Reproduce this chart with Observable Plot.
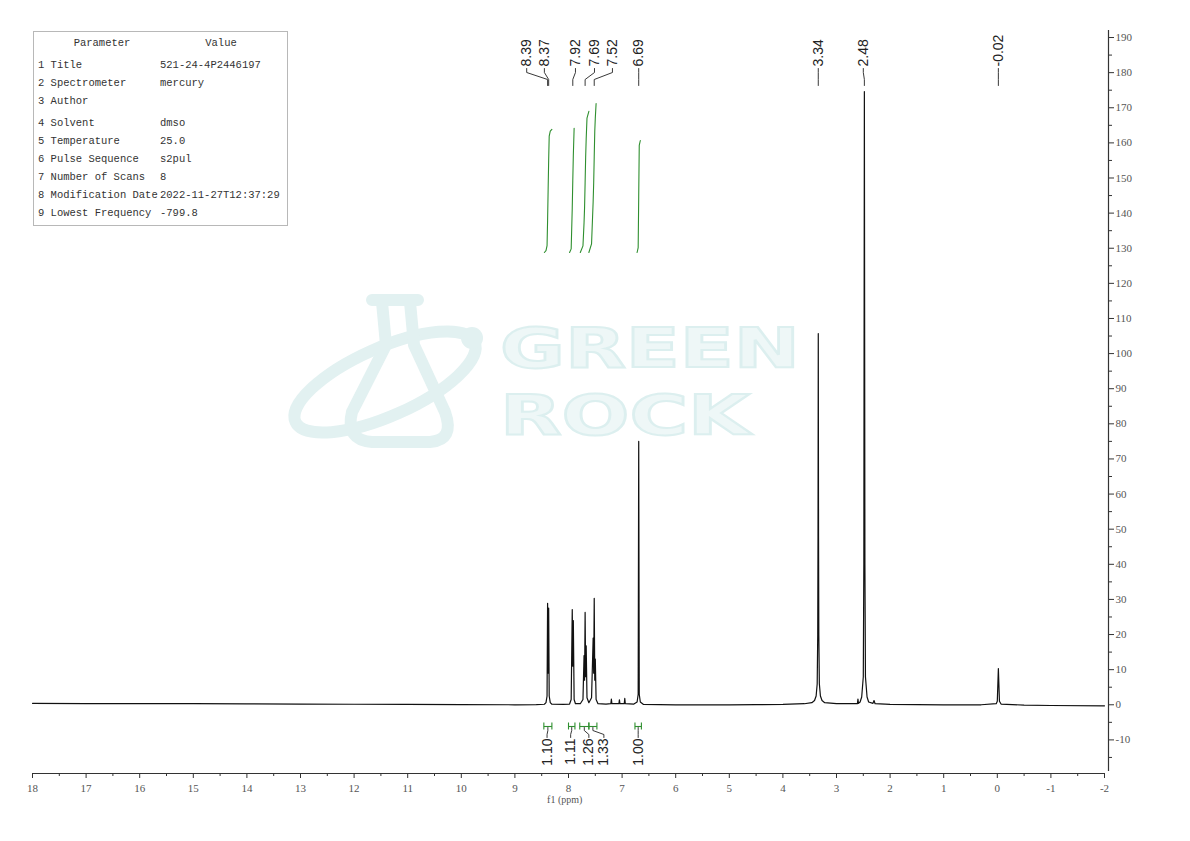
<!DOCTYPE html>
<html><head><meta charset="utf-8">
<script src="https://cdn.jsdelivr.net/npm/d3@7"></script>
<script src="https://cdn.jsdelivr.net/npm/@observablehq/plot@0.6"></script>
<style>
html,body{margin:0;padding:0;background:#fff;}
body{width:1190px;height:841px;position:relative;overflow:hidden;}
#wm{position:absolute;left:0;top:0;z-index:0;}
#chart{position:absolute;left:0;top:0;z-index:1;}
#params{position:absolute;left:33px;top:31px;width:253px;height:193px;border:1px solid #b8b8b8;z-index:2;background:transparent;font-family:"Liberation Mono",monospace;font-size:10.5px;color:#333;}
#params div{position:absolute;white-space:pre;line-height:14px;}
</style></head><body>
<svg id="wm" width="1190" height="841">
  <g fill="none" stroke="#e2f1f1" stroke-width="12" stroke-linejoin="round" stroke-linecap="round">
    <ellipse cx="385" cy="382" rx="98" ry="34" transform="rotate(-24 385 382)"/>
    <path d="M372,300 L418,300 M382,302 L386,345 L352,412 Q345,440 372,442 L430,442 Q455,440 445,412 L414,345 L410,302"/>
  </g>
  <circle cx="472" cy="338" r="11" fill="#e2f1f1"/>
  <text x="500" y="367" textLength="300" lengthAdjust="spacingAndGlyphs" font-family="DejaVu Sans" font-weight="bold" font-size="56" fill="#eef7f7" stroke="#dcefef" stroke-width="2">GREEN</text>
  <text x="500" y="434" textLength="250" lengthAdjust="spacingAndGlyphs" font-family="DejaVu Sans" font-weight="bold" font-size="56" fill="#eef7f7" stroke="#dcefef" stroke-width="2">ROCK</text>
</svg>
<div id="params"></div>
<div id="chart"></div>
<script>
// ---------- data ----------
const spectrumPpm = [18,17,16,15,14,13,12,11,10,9,8.6,
  8.45,8.42,8.40,8.39,8.38,8.37,8.36,8.34,8.31,8.1,
  7.98,7.95,7.93,7.92,7.91,7.895,7.87,7.78,
  7.73,7.71,7.70,7.69,7.68,7.67,7.655,7.62,
  7.57,7.54,7.53,7.52,7.51,7.50,7.485,7.45,7.3,
  7.21,7.20,7.19,7.06,7.05,7.04,6.96,6.95,6.94,
  6.78,6.72,6.70,6.69,6.68,6.66,6.60,
  6,5,4.5,4,3.6,
  3.46,3.41,3.38,3.36,3.35,3.345,3.34,3.335,3.33,3.32,3.30,3.27,3.22,3.0,2.7,
  2.61,2.60,2.59,2.56,2.53,2.50,2.49,2.48,2.47,2.46,2.43,2.40,2.32,2.30,2.28,
  2,1,0.3,0.02,0.0,-0.02,-0.04,-0.07,-0.5,-1,-2];
const spectrumIntensity = [0.4,0.35,0.3,0.3,0.25,0.2,0.15,0.1,0.05,0.0,0.05,
  0.15,0.6,2.5,28.9,9,27.5,2.5,0.6,0.15,0.1,
  0.2,1.5,27.1,11,24,1.5,0.3,0.3,
  1.5,14,7,26.3,8,16.8,2,0.6,
  2,19,9,30.3,7,13,1.5,0.3,0.2,
  0.3,1.6,0.3,0.3,1.4,0.3,0.3,1.8,0.3,
  0.2,0.8,3,75,3,0.8,0.1,
  0,0,0.05,0.1,0.3,
  0.6,1.2,2.5,6,20,48,105.7,48,20,6,2.5,1.2,0.6,0.3,0.3,
  0.3,1.6,0.4,0.8,2.2,8,40,174.6,40,8,2.2,0.8,0.4,1.2,0.3,
  0.1,0,0,0.3,1,10.3,1,0.2,-0.1,-0.2,-0.3];

const peakLabels = ["8.39","8.37","7.92","7.69","7.52","6.69","3.34","2.48","-0.02"];
const peakPpm = [8.39,8.37,7.92,7.69,7.52,6.69,3.34,2.48,-0.02];
const peakLabelPpm = [8.78,8.45,7.87,7.515,7.18,6.69,3.34,2.50,-0.02];

const integralValues = [1.10,1.11,1.26,1.33,1.00];
const integralFrom = [8.46,8.00,7.79,7.62,6.76];
const integralTo = [8.31,7.88,7.62,7.47,6.64];
const integralLabelPpm = [8.40,7.96,7.62,7.34,6.70];

const xTickValues = [18,17,16,15,14,13,12,11,10,9,8,7,6,5,4,3,2,1,0,-1,-2];
const yTickValues = [-10,0,10,20,30,40,50,60,70,80,90,100,110,120,130,140,150,160,170,180,190];

const paramNames = ["1 Title","2 Spectrometer","3 Author","4 Solvent","5 Temperature","6 Pulse Sequence","7 Number of Scans","8 Modification Date","9 Lowest Frequency"];
const paramValues = ["521-24-4P2446197","mercury","","dmso","25.0","s2pul","8","2022-11-27T12:37:29","-799.8"];

// ---------- layout ----------
const W = 1190, H = 841, mT = 30, mB = 70, mL = 32, mR = 86;
const yDomain = [-19, 192];
const xDomain = [18, -2];
const yS = d3.scaleLinear(yDomain, [H - mB, mT]);
const py = px => yS.invert(px);          // pixel row -> data value
const green = "#2f8f2f";

// parameter table
const params = document.getElementById("params");
function addCell(txt, left, cy, center) {
  const d = document.createElement("div");
  d.textContent = txt;
  d.style.top = (cy - 32 - 7) + "px";
  d.style.left = (left - 34) + "px";
  if (center) d.style.transform = "translateX(-50%)";
  params.appendChild(d);
}
addCell("Parameter", 102, 43, true);
addCell("Value", 221, 43, true);
const rowY = [65,83,101,123,141,159,177,195,213];
paramNames.forEach((n,i) => { addCell(n, 38, rowY[i], false); addCell(paramValues[i], 160, rowY[i], false); });

// spectrum table
const spectrum = spectrumPpm.map((p,i) => ({ppm: p, v: spectrumIntensity[i]}));

// integral curves derived from the spectrum (cumulative trapezoid area)
const integralCurves = [];
integralValues.forEach((val, k) => {
  const a = integralFrom[k], b = integralTo[k];
  const pts = spectrum.filter(d => d.ppm <= a && d.ppm >= b).sort((p,q) => q.ppm - p.ppm);
  const cum = [0];
  for (let i = 1; i < pts.length; i++) {
    cum.push(cum[i-1] + (pts[i-1].ppm - pts[i].ppm) * (pts[i-1].v + pts[i].v) / 2);
  }
  const total = cum[cum.length - 1];
  pts.forEach((p,i) => integralCurves.push({id: k, ppm: p.ppm, y: py(252 - val * 112 * cum[i] / total)}));
});

// peak label leaders
const peaks = peakLabels.map((t,i) => ({label: t, ppm: peakPpm[i], lp: peakLabelPpm[i]}));
const leaders = [];
peaks.forEach((p,i) => {
  leaders.push({id:i, ppm:p.lp, y:py(68)}, {id:i, ppm:p.lp, y:py(72)}, {id:i, ppm:p.ppm, y:py(79)}, {id:i, ppm:p.ppm, y:py(85)});
});

// integral brackets and leaders
const integrals = integralValues.map((v,i) => ({
  label: v.toFixed(2), from: integralFrom[i], to: integralTo[i],
  mid: (integralFrom[i] + integralTo[i]) / 2, lp: integralLabelPpm[i]
}));
const intLeaders = [];
integrals.forEach((d,i) => {
  intLeaders.push({id:i, ppm:d.mid, y:py(727)}, {id:i, ppm:d.mid, y:py(730)}, {id:i, ppm:d.lp, y:py(734)}, {id:i, ppm:d.lp, y:py(737)});
});
const bracketEnds = integrals.flatMap(d => [d.from, d.to]);

const minorX = d3.range(17.5, -2, -1);
const minorY = d3.range(-15, 192, 10);

const chart = Plot.plot({
  width: W, height: H,
  marginTop: mT, marginBottom: mB, marginLeft: mL, marginRight: mR,
  x: {domain: xDomain, axis: null},
  y: {domain: yDomain, axis: null},
  style: {background: "transparent", fontFamily: "Liberation Serif", fontSize: "11px", color: "#222"},
  marks: [
    // axes
    Plot.ruleY([yDomain[0]], {stroke: "#333", strokeWidth: 1.2, dy: 2}),
    Plot.axisX({ticks: xTickValues, tickSize: 5, tickPadding: 6, dy: 2, stroke: "#333", fill: "#555",
      tickFormat: d => String(d), fontFamily: "Liberation Serif", fontSize: 11}),
    Plot.axisX({ticks: minorX, tickSize: 3, dy: 2, stroke: "#333", tickFormat: () => ""}),
    Plot.ruleX([xDomain[1]], {y1: yDomain[0], y2: yDomain[1], dx: 4, stroke: "#333", strokeWidth: 1.2}),
    Plot.axisY({anchor: "right", ticks: yTickValues, tickSize: 5, tickPadding: 2, dx: 4, stroke: "#333", fill: "#555",
      tickFormat: d => String(d), fontFamily: "Liberation Serif", fontSize: 11}),
    Plot.axisY({anchor: "right", ticks: minorY, tickSize: 3, dx: 4, stroke: "#333", tickFormat: () => ""}),
    Plot.text(["f1 (ppm)"], {x: 8.07, frameAnchor: "bottom", dy: 31, fill: "#555", fontSize: 10, fontFamily: "Liberation Serif"}),
    // spectrum
    Plot.line(spectrum, {x: "ppm", y: "v", stroke: "#111", strokeWidth: 1.2}),
    // integral curves
    Plot.line(integralCurves, {x: "ppm", y: "y", z: "id", stroke: green, strokeWidth: 1.1}),
    // peak labels
    Plot.line(leaders, {x: "ppm", y: "y", z: "id", stroke: "#222", strokeWidth: 0.9}),
    Plot.text(peaks, {x: "lp", y: () => py(66), text: "label", rotate: -90, textAnchor: "start",
      fontFamily: "Liberation Sans", fontSize: 14, fill: "#222"}),
    // integral brackets
    Plot.link(integrals, {x1: "from", x2: "to", y1: () => py(726), y2: () => py(726), stroke: green, strokeWidth: 1.1}),
    Plot.link(bracketEnds, {x1: d => d, x2: d => d, y1: () => py(722), y2: () => py(729), stroke: green, strokeWidth: 1.1}),
    Plot.line(intLeaders, {x: "ppm", y: "y", z: "id", stroke: "#222", strokeWidth: 0.9}),
    Plot.text(integrals, {x: "lp", y: () => py(738), text: "label", rotate: -90, textAnchor: "end",
      fontFamily: "Liberation Sans", fontSize: 14, fill: "#222"})
  ]
});
document.getElementById("chart").appendChild(chart);
</script>
</body></html>
